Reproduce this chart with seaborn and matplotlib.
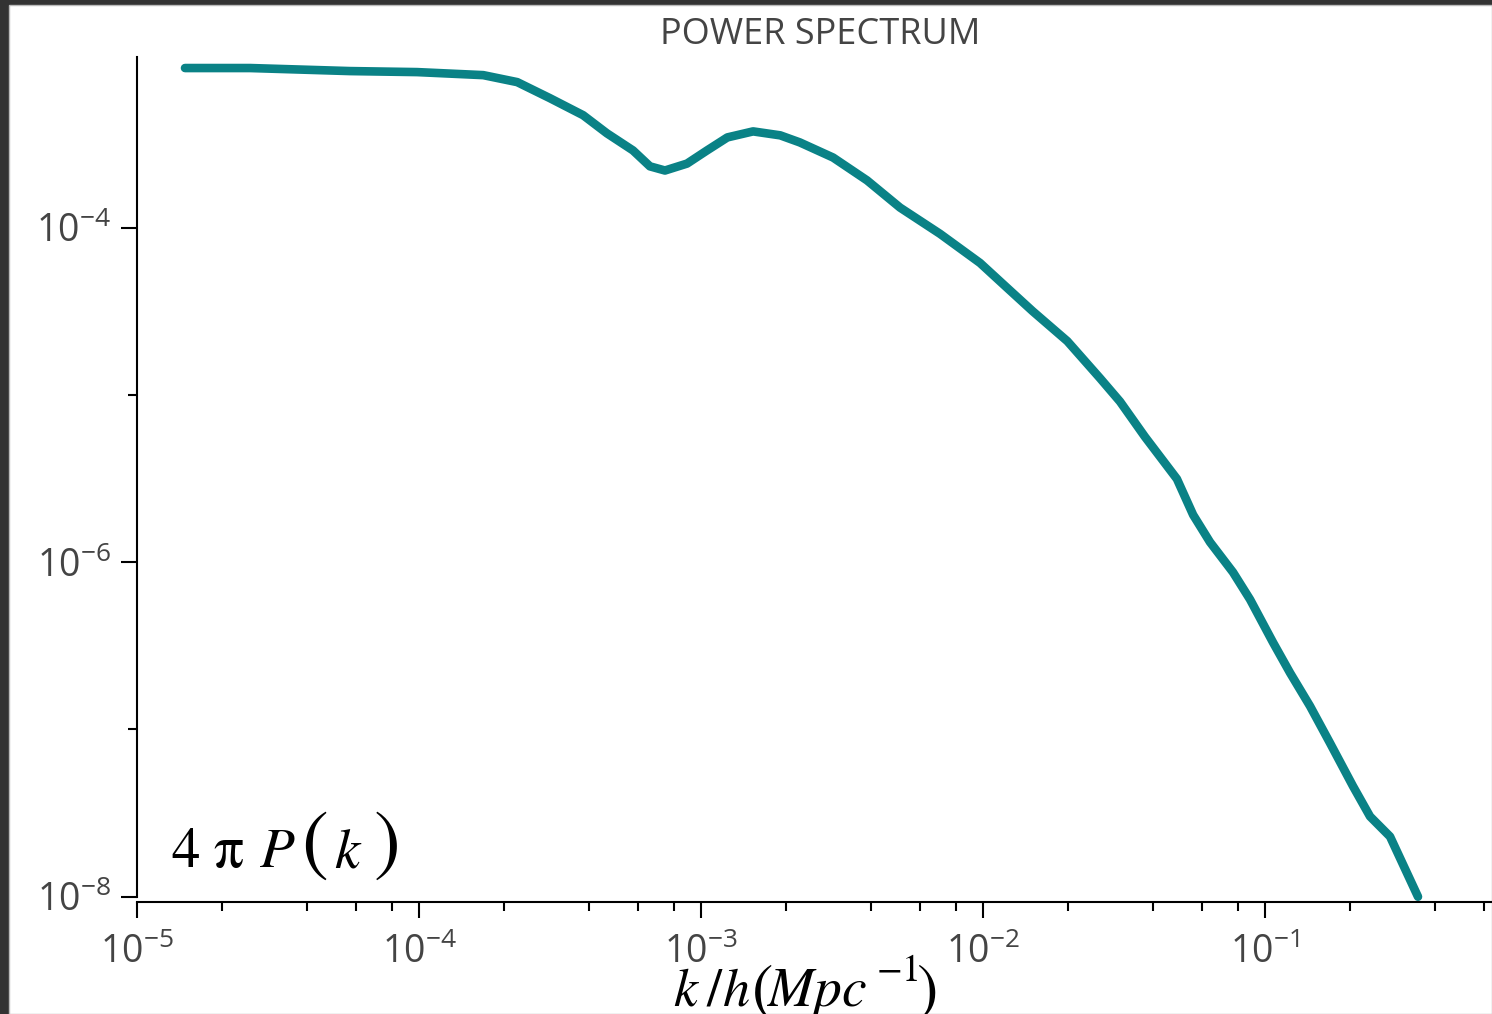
import numpy as np
import pandas as pd
import matplotlib
matplotlib.use("Agg")
import matplotlib.pyplot as plt
import matplotlib.ticker as mticker
from matplotlib.patches import Rectangle
import seaborn as sns

# Power spectrum (k in h/Mpc, 4*pi*P(k))
k_values = [1.48e-5, 2.52e-5, 5.69e-5, 9.84e-5, 1.69e-4, 2.23e-4, 2.91e-4,
            3.82e-4, 4.64e-4, 5.74e-4, 6.59e-4, 7.45e-4, 8.92e-4, 1.05e-3,
            1.24e-3, 1.53e-3, 1.91e-3, 2.24e-3, 2.94e-3, 3.88e-3, 5.08e-3,
            7.04e-3, 9.76e-3, 1.22e-2, 1.50e-2, 1.99e-2, 2.60e-2, 3.06e-2,
            3.75e-2, 4.87e-2, 5.56e-2, 6.38e-2, 7.70e-2, 8.85e-2, 0.1068,
            0.1227, 0.1444, 0.1700, 0.2051, 0.2357, 0.2775, 0.3487]
pk_values = [9.02e-4, 9.02e-4, 8.65e-4, 8.53e-4, 8.18e-4, 7.43e-4, 5.96e-4,
             4.71e-4, 3.67e-4, 2.90e-4, 2.33e-4, 2.20e-4, 2.42e-4, 2.90e-4,
             3.47e-4, 3.77e-4, 3.57e-4, 3.24e-4, 2.63e-4, 1.92e-4, 1.32e-4,
             9.20e-5, 6.16e-5, 4.36e-5, 3.17e-5, 2.10e-5, 1.26e-5, 9.14e-6,
             5.63e-6, 3.15e-6, 1.92e-6, 1.32e-6, 8.71e-7, 5.99e-7, 3.31e-7,
             2.18e-7, 1.38e-7, 8.30e-8, 4.58e-8, 3.02e-8, 2.29e-8, 1.0e-8]

y_major = [1e-8, 1e-6, 1e-4]
y_minor = [1e-7, 1e-5]

data = pd.DataFrame({"k": k_values, "pk": pk_values})

sns.set_style("ticks")
plt.rcParams["font.family"] = ["Open Sans", "DejaVu Sans"]
plt.rcParams["mathtext.fontset"] = "stix"

W, H = 1492, 1014
fig = plt.figure(figsize=(W / 100, H / 100), dpi=100)
fig.patch.set_facecolor("#333333")
fig.patches.append(Rectangle((9 / W, 0), 1 - 9 / W, (H - 5) / H,
                             transform=fig.transFigure, facecolor="white",
                             edgecolor="#bbbbbb", linewidth=1, zorder=-10))

ax = fig.add_axes([137 / W, (H - 902) / H, 1366 / W, 845 / H])
ax.set_facecolor("none")
ax.set(xscale="log", yscale="log")

sns.lineplot(data=data, x="k", y="pk", ax=ax, color="#0a8286",
             linewidth=6.2, sort=False, solid_capstyle="round",
             solid_joinstyle="round")

ax.set_xlim(1e-5, 0.698)
ax.set_ylim(9.3e-9, 1.05e-3)

ax.yaxis.set_major_locator(mticker.FixedLocator(y_major))
ax.yaxis.set_minor_locator(mticker.FixedLocator(y_minor))
ax.yaxis.set_minor_formatter(mticker.NullFormatter())
ax.xaxis.set_major_locator(mticker.LogLocator(base=10, numticks=20))
ax.xaxis.set_minor_locator(mticker.LogLocator(base=10, subs=(2, 4, 6, 8), numticks=20))
ax.xaxis.set_minor_formatter(mticker.NullFormatter())

ax.tick_params(which="major", length=11.5, width=1.5, color="black",
               labelsize=27, labelcolor="#444444")
ax.tick_params(which="minor", length=6.5, width=1.5, color="black")
ax.tick_params(axis="x", which="major", pad=11)
ax.tick_params(axis="y", which="major", pad=7)

sns.despine(ax=ax)
ax.spines["left"].set_bounds(1e-8, 1.05e-3)
for s in ["left", "bottom"]:
    ax.spines[s].set_linewidth(1.5)
    ax.spines[s].set_color("black")

ax.set_title("POWER SPECTRUM", fontsize=26, color="#444444", pad=9)
ax.set_xlabel("")
ax.set_ylabel("")


def put(txt, x, y, size):
    # place a piece of the big serif labels, x/y in pixels from top-left
    fig.text(x / W, (H - y) / H, txt, fontsize=size, color="black",
             ha="left", va="baseline")


# 4 pi P(k) label inside the axes
put(r"$4$", 171, 867, 41)
put(r"$\mathrm{\pi}$", 213, 867, 43)
put(r"$P$", 259, 867, 41)
put(r"$($", 301, 866, 58)
put(r"$k$", 334, 867, 41)
put(r"$)$", 373, 866, 58)

# k/h(Mpc^-1) axis label
put(r"$k$", 673, 1006, 39)
put(r"$/$", 706, 1006, 39)
put(r"$h$", 722, 1006, 39)
put(r"$($", 751, 1009, 46)
put(r"$Mpc$", 766, 1006, 40)
put(r"$-1$", 876, 981, 27)
put(r"$)$", 916, 1009, 46)

fig.savefig("out.png", dpi=100, facecolor=fig.get_facecolor())
